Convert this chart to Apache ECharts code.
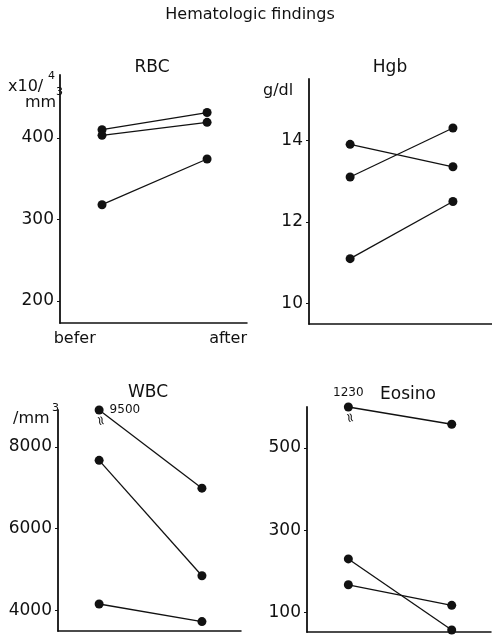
<!DOCTYPE html>
<html lang="en">
<head>
    <meta charset="UTF-8">
    <title>Hematologic findings</title>
    <script src="https://cdn.jsdelivr.net/npm/echarts@6.0.0/dist/echarts.min.js"></script>
</head>
<body style="margin:0;background:#fff;">
<div id="chart" style="width:492px;height:635px;"></div>
<script>
    // values
    var phases = ['befer', 'after'];
    var panelNames = ['RBC', 'Hgb', 'WBC', 'Eosino'];
    var rbcBefore = [410, 403, 318];
    var rbcAfter = [431, 419, 374];
    var hgbBefore = [13.9, 13.1, 11.1];
    var hgbAfter = [13.35, 14.3, 12.5];
    var wbcBefore = [9500, 7670, 4160];
    var wbcAfter = [6990, 4850, 3730];
    var eosBefore = [1230, 230, 167];
    var eosAfter = [558, 57, 117];
    var rbcTicks = [200, 300, 400];
    var hgbTicks = [10, 12, 14];
    var wbcTicks = [4000, 6000, 8000];
    var eosTicks = [100, 300, 500];

    var ink = '#111';
    var font = 'DejaVu Sans';
    var chart = echarts.init(document.getElementById('chart'));

    var panels = [
        {before: rbcBefore, after: rbcAfter, ticks: rbcTicks, min: 173, max: 477,
            grid: {left: 60, top: 75, width: 187, height: 248}, title: [152, 59]},
        {before: hgbBefore, after: hgbAfter, ticks: hgbTicks, min: 9.5, max: 15.5,
            grid: {left: 309, top: 79, width: 183, height: 245}, title: [390, 59]},
        {before: wbcBefore, after: wbcAfter, ticks: wbcTicks, min: 3500, max: 8900,
            grid: {left: 58, top: 410, width: 183, height: 221}, title: [148, 384]},
        {before: eosBefore, after: eosAfter, ticks: eosTicks, min: 52, max: 600,
            grid: {left: 307, top: 407, width: 184, height: 225}, title: [408, 386]}
    ];

    var grids = [], xAxes = [], yAxes = [], series = [], titles = [];
    var breaks = [];

    titles.push({
        text: 'Hematologic findings', left: 250, top: 7, textAlign: 'center', padding: 0,
        textStyle: {fontFamily: font, fontSize: 16, fontWeight: 'normal', color: ink}
    });

    panels.forEach(function (p, k) {
        var g = p.grid;
        g.outerBoundsMode = 'none';
        grids.push(g);
        titles.push({
            text: panelNames[k], left: p.title[0], top: p.title[1], textAlign: 'center', padding: 0,
            textStyle: {fontFamily: font, fontSize: 17, fontWeight: 'normal', color: ink}
        });
        xAxes.push({
            type: 'value', gridIndex: k, min: -0.4, max: 1.38,
            axisLine: {show: true, onZero: false, lineStyle: {color: ink, width: 1.5}},
            axisTick: {show: false},
            splitLine: {show: false},
            axisLabel: {
                show: k === 0, customValues: [-0.26, 1.2], margin: 8,
                fontFamily: font, fontSize: 16, color: ink,
                formatter: function (v) { return v < 0.5 ? phases[0] : phases[1]; }
            }
        });
        yAxes.push({
            type: 'value', gridIndex: k, min: p.min, max: p.max,
            axisLine: {show: true, onZero: false, lineStyle: {color: ink, width: 1.8}},
            axisTick: {show: true, length: 3, customValues: p.ticks, lineStyle: {color: ink}},
            splitLine: {show: false},
            axisLabel: {
                customValues: p.ticks, margin: 6, fontFamily: font, fontSize: 17, color: ink,
                formatter: function (v) { return String(v); }
            }
        });
        for (var i = 0; i < p.before.length; i++) {
            var pair = [p.before[i], p.after[i]];
            var data = pair.map(function (v, j) {
                if (v <= p.max) return [j, v];
                // broken axis: draw at the top, show the real value
                breaks.push({k: k, x: j});
                return {
                    value: [j, p.max],
                    label: {
                        show: true, formatter: String(v),
                        position: k === 2 ? 'right' : 'top', distance: k === 2 ? 6 : 4,
                        fontFamily: font, fontSize: 12, color: ink
                    }
                };
            });
            series.push({
                type: 'line', xAxisIndex: k, yAxisIndex: k, data: data,
                symbol: 'circle', symbolSize: 9, animation: false,
                lineStyle: {color: ink, width: 1.3},
                itemStyle: {color: ink}
            });
        }
    });

    var option = {
        backgroundColor: '#fff',
        title: titles,
        grid: grids,
        xAxis: xAxes,
        yAxis: yAxes,
        series: series
    };
    chart.setOption(option);

    // unit labels and break marks
    var unit = {fontFamily: font, fontSize: 16, fill: ink};
    var small = {fontFamily: font, fontSize: 11, fill: ink};
    var graphics = [
        {type: 'text', left: 8, top: 79, style: Object.assign({text: 'x10/'}, unit)},
        {type: 'text', left: 48, top: 71, style: Object.assign({text: '4'}, small)},
        {type: 'text', left: 25, top: 95, style: Object.assign({text: 'mm'}, unit)},
        {type: 'text', left: 56, top: 87, style: Object.assign({text: '3'}, small)},
        {type: 'text', left: 263, top: 83, style: Object.assign({text: 'g/dl'}, unit)},
        {type: 'text', left: 13, top: 411, style: Object.assign({text: '/mm'}, unit)},
        {type: 'text', left: 52, top: 403, style: Object.assign({text: '3'}, small)}
    ];
    breaks.forEach(function (b) {
        var p = panels[b.k];
        var px = chart.convertToPixel({gridIndex: b.k}, [b.x, p.max]);
        graphics.push({
            type: 'text', x: px[0] + 1, y: px[1] + 11, rotation: -Math.PI / 2.4,
            style: {text: '≈', fontFamily: font, fontSize: 13, fill: ink,
                align: 'center', verticalAlign: 'middle'}
        });
    });
    chart.setOption({graphic: graphics});
</script>
</body>
</html>
